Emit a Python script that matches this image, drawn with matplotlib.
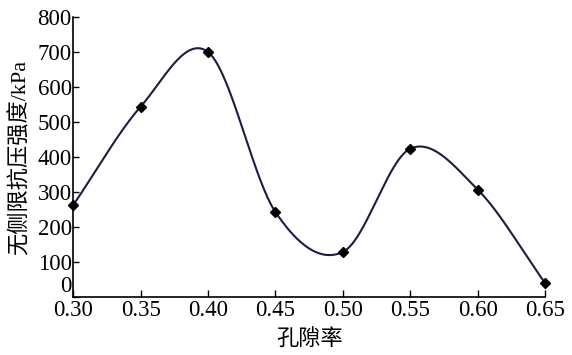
import numpy as np
import matplotlib.pyplot as plt

# 数据
porosity = [0.30, 0.35, 0.40, 0.45, 0.50, 0.55, 0.60, 0.65]
strength = [263, 544, 700, 243, 129, 424, 307, 40]
x_ticks = [0.30, 0.35, 0.40, 0.45, 0.50, 0.55, 0.60, 0.65]
y_ticks = [0, 100, 200, 300, 400, 500, 600, 700, 800]


def smooth_curve(x, y, n=60):
    # Catmull-Rom 样条
    x = np.asarray(x, float)
    y = np.asarray(y, float)
    m = np.gradient(y, x)
    xs_all, ys_all = [], []
    for i in range(len(x) - 1):
        h = x[i + 1] - x[i]
        t = np.linspace(0, 1, n)
        h00 = 2 * t**3 - 3 * t**2 + 1
        h10 = t**3 - 2 * t**2 + t
        h01 = -2 * t**3 + 3 * t**2
        h11 = t**3 - t**2
        xs_all.append(x[i] + t * h)
        ys_all.append(h00 * y[i] + h10 * h * m[i] + h01 * y[i + 1] + h11 * h * m[i + 1])
    return np.concatenate(xs_all), np.concatenate(ys_all)


plt.rcParams['font.family'] = ['Liberation Serif', 'Noto Sans CJK SC']

fig = plt.figure(figsize=(5.72, 3.55), dpi=100)
ax = fig.add_axes([0.128, 0.163, 0.825, 0.789])

xs, ys = smooth_curve(porosity, strength)
ax.plot(xs, ys, color='#1c1c45', lw=1.5, clip_on=False, zorder=2)
ax.plot(porosity, strength, linestyle='none', marker='D', ms=5.5,
        color='black', clip_on=False, zorder=3)

ax.set_xlim(0.30, 0.65)
ax.set_ylim(0, 800)
ax.set_xticks(x_ticks)
ax.set_xticklabels([f"{v:.2f}" for v in x_ticks])
ax.set_yticks(y_ticks)
ax.tick_params(direction='in', length=4, width=1, labelsize=16.5)
ax.tick_params(axis='x', pad=2, length=5)
ax.tick_params(axis='y', pad=1)
ax.get_yticklabels()[0].set_verticalalignment('bottom')
for s in ['top', 'right']:
    ax.spines[s].set_visible(False)
for s in ['left', 'bottom']:
    ax.spines[s].set_linewidth(1.2)

ax.set_xlabel("孔隙率", fontsize=16, labelpad=5, family='Noto Sans CJK SC')
ax.set_ylabel("无侧限抗压强度/kPa", fontsize=16, labelpad=5)

fig.savefig("out.png", dpi=100)
